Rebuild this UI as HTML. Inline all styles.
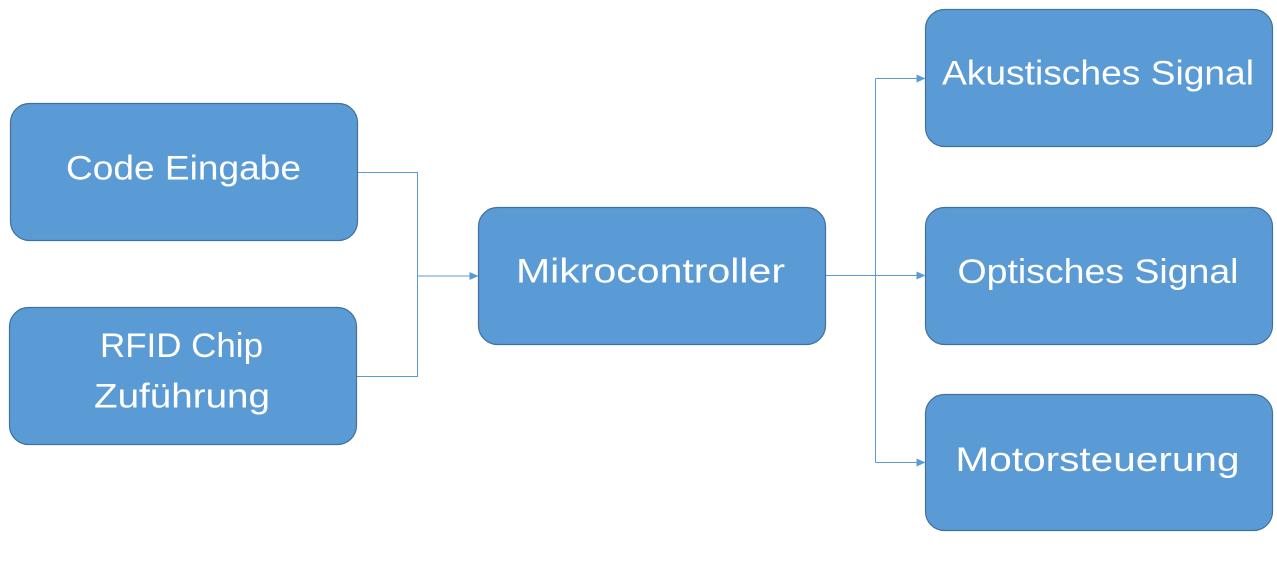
<!DOCTYPE html>
<html>
<head>
<meta charset="utf-8">
<style>
  html, body { margin: 0; padding: 0; background: #ffffff; }
  body { width: 1277px; height: 584px; overflow: hidden; }
  svg { display: block; }
  text { font-family: "Liberation Sans", sans-serif; font-size: 34px; fill: #ffffff; }
</style>
</head>
<body>
<svg width="1277" height="584" viewBox="0 0 1277 584" xmlns="http://www.w3.org/2000/svg">
  <!-- connectors -->
  <g stroke="#5B9BD5" stroke-width="1" fill="none">
    <path d="M357,172.5 H417.5 V376.5 H357"/>
    <path d="M417.5,276 H471"/>
    <path d="M825,275.5 H918"/>
    <path d="M875.5,78.5 V462.5"/>
    <path d="M875.5,78.5 H918"/>
    <path d="M875.5,462.5 H918"/>
  </g>
  <g fill="#5B9BD5">
    <polygon points="469.5,272 478.5,276 469.5,280"/>
    <polygon points="916.5,74.5 925.5,78.5 916.5,82.5"/>
    <polygon points="916.5,271.5 925.5,275.5 916.5,279.5"/>
    <polygon points="916.5,458.5 925.5,462.5 916.5,466.5"/>
  </g>

  <!-- boxes -->
  <g fill="#5B9BD5" stroke="#41719C" stroke-width="1.2">
    <rect x="10.5" y="103.5" width="347" height="137" rx="19" ry="19"/>
    <rect x="9.5" y="307.5" width="347" height="137" rx="19" ry="19"/>
    <rect x="478.5" y="207.5" width="347" height="137" rx="19" ry="19"/>
    <rect x="925.5" y="9.5" width="347" height="137" rx="19" ry="19"/>
    <rect x="925.5" y="207.5" width="347" height="137" rx="19" ry="19"/>
    <rect x="925.5" y="394.5" width="347" height="136" rx="19" ry="19"/>
  </g>

  <!-- labels -->
  <text x="66" y="179.5" textLength="235" lengthAdjust="spacingAndGlyphs">Code Eingabe</text>
  <text x="100" y="357" textLength="163" lengthAdjust="spacingAndGlyphs">RFID Chip</text>
  <text x="94" y="407.5" textLength="176" lengthAdjust="spacingAndGlyphs">Zuführung</text>
  <text x="516" y="282.5" textLength="269" lengthAdjust="spacingAndGlyphs">Mikrocontroller</text>
  <text x="942" y="84.5" textLength="312" lengthAdjust="spacingAndGlyphs">Akustisches Signal</text>
  <text x="957.5" y="283" textLength="281" lengthAdjust="spacingAndGlyphs">Optisches Signal</text>
  <text x="955.5" y="471" textLength="284" lengthAdjust="spacingAndGlyphs">Motorsteuerung</text>
</svg>
</body>
</html>
